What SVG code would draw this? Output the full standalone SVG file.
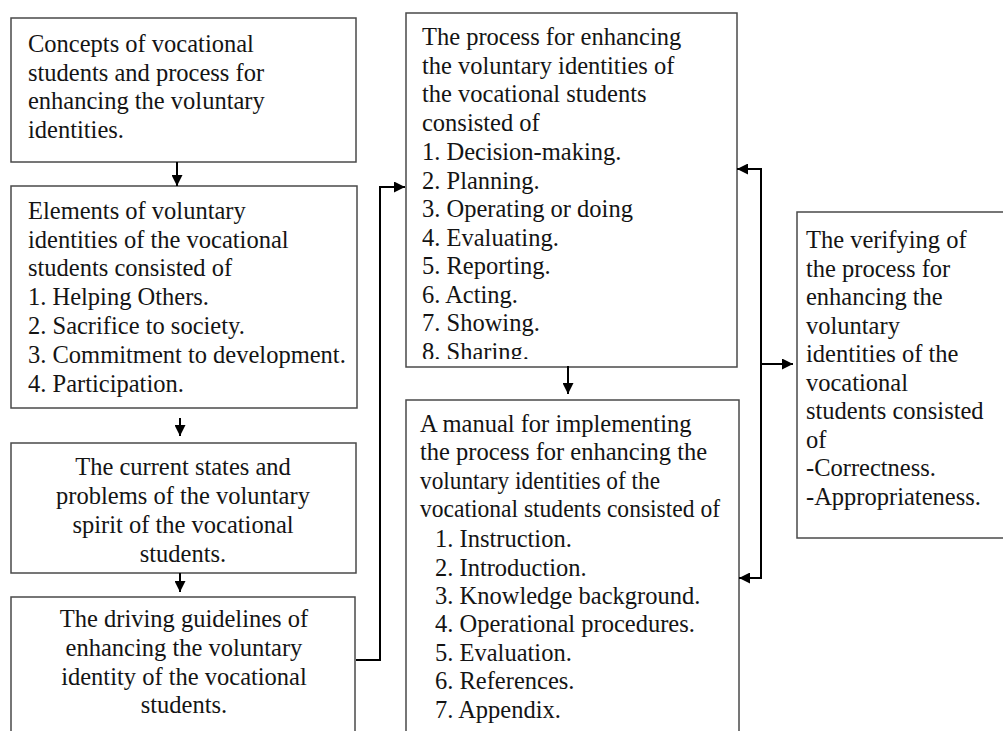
<svg xmlns="http://www.w3.org/2000/svg" width="1003" height="731" viewBox="0 0 1003 731">
  <style>
    .box { fill: #ffffff; stroke: #4a4a4a; stroke-width: 1.5; }
    .t { font-family: "Liberation Serif", "Times New Roman", serif; font-size: 24.5px; fill: #141414; }
    .c { text-anchor: middle; }
    .conn { fill: none; stroke: #000000; stroke-width: 2; }
  </style>
  <defs>
    <marker id="ah" markerUnits="userSpaceOnUse" markerWidth="11" markerHeight="11" refX="11" refY="5.5" orient="auto">
      <path d="M0,0 L11,5.5 L0,11 Z" fill="#000000"/>
    </marker>
    <clipPath id="clip5">
      <rect x="406" y="13" width="331" height="346"/>
    </clipPath>
  </defs>
  <rect width="1003" height="731" fill="#ffffff"/>

  <g id="node-concepts">
    <rect class="box" x="11" y="18" width="345" height="144"/>
    <text class="t" x="28" y="52">Concepts of vocational</text>
    <text class="t" x="28" y="80.5">students and process for</text>
    <text class="t" x="28" y="109">enhancing the voluntary</text>
    <text class="t" x="28" y="137.5">identities.</text>
  </g>

  <g id="node-elements">
    <rect class="box" x="11" y="186" width="346" height="222"/>
    <text class="t" x="28" y="219">Elements of voluntary</text>
    <text class="t" x="28" y="247.5">identities of the vocational</text>
    <text class="t" x="28" y="276">students consisted of</text>
    <text class="t" x="28" y="305">1. Helping Others.</text>
    <text class="t" x="28" y="334">2. Sacrifice to society.</text>
    <text class="t" x="28" y="363">3. Commitment to development.</text>
    <text class="t" x="28" y="392">4. Participation.</text>
  </g>

  <g id="node-current">
    <rect class="box" x="11" y="443" width="345" height="130"/>
    <text class="t c" x="183" y="475">The current states and</text>
    <text class="t c" x="183" y="504">problems of the voluntary</text>
    <text class="t c" x="183" y="533">spirit of the vocational</text>
    <text class="t c" x="183" y="562">students.</text>
  </g>

  <g id="node-guidelines">
    <rect class="box" x="11" y="597" width="344" height="160"/>
    <text class="t c" x="184" y="627">The driving guidelines of</text>
    <text class="t c" x="184" y="656">enhancing the voluntary</text>
    <text class="t c" x="184" y="685">identity of the vocational</text>
    <text class="t c" x="184" y="713">students.</text>
  </g>

  <g id="node-process">
    <rect class="box" x="406" y="13" width="331" height="354"/>
    <g clip-path="url(#clip5)">
      <text class="t" x="422" y="45">The process for enhancing</text>
      <text class="t" x="422" y="73.5">the voluntary identities of</text>
      <text class="t" x="422" y="102">the vocational students</text>
      <text class="t" x="422" y="130.5">consisted of</text>
      <text class="t" x="422" y="160">1. Decision-making.</text>
      <text class="t" x="422" y="188.5">2. Planning.</text>
      <text class="t" x="422" y="217">3. Operating or doing</text>
      <text class="t" x="422" y="245.5">4. Evaluating.</text>
      <text class="t" x="422" y="274">5. Reporting.</text>
      <text class="t" x="422" y="302.5">6. Acting.</text>
      <text class="t" x="422" y="331">7. Showing.</text>
      <text class="t" x="422" y="359.5">8. Sharing.</text>
    </g>
  </g>

  <g id="node-manual">
    <rect class="box" x="406" y="400" width="333" height="360"/>
    <text class="t" x="420" y="431.5">A manual for implementing</text>
    <text class="t" x="420" y="460">the process for enhancing the</text>
    <text class="t" x="420" y="488.5" textLength="240" lengthAdjust="spacingAndGlyphs">voluntary identities of the</text>
    <text class="t" x="420" y="517" textLength="300" lengthAdjust="spacingAndGlyphs">vocational students consisted of</text>
    <text class="t" x="435" y="547">1. Instruction.</text>
    <text class="t" x="435" y="575.5">2. Introduction.</text>
    <text class="t" x="435" y="604">3. Knowledge background.</text>
    <text class="t" x="435" y="632">4. Operational procedures.</text>
    <text class="t" x="435" y="660.5">5. Evaluation.</text>
    <text class="t" x="435" y="689">6. References.</text>
    <text class="t" x="435" y="717.5">7. Appendix.</text>
  </g>

  <g id="node-verifying">
    <rect class="box" x="797" y="212" width="230" height="326"/>
    <text class="t" x="806" y="248">The verifying of</text>
    <text class="t" x="806" y="276.5">the process for</text>
    <text class="t" x="806" y="305">enhancing the</text>
    <text class="t" x="806" y="333.5">voluntary</text>
    <text class="t" x="806" y="362">identities of the</text>
    <text class="t" x="806" y="390.5">vocational</text>
    <text class="t" x="806" y="419">students consisted</text>
    <text class="t" x="806" y="447.5">of</text>
    <text class="t" x="806" y="476">-Correctness.</text>
    <text class="t" x="806" y="504.5">-Appropriateness.</text>
  </g>

  <g id="connectors">
    <line class="conn" x1="177" y1="162" x2="177" y2="186" marker-end="url(#ah)"/>
    <line class="conn" x1="180" y1="418" x2="180" y2="436" marker-end="url(#ah)"/>
    <line class="conn" x1="180" y1="573" x2="180" y2="592" marker-end="url(#ah)"/>
    <polyline class="conn" points="356,660 380,660 380,187 405,187" marker-end="url(#ah)"/>
    <line class="conn" x1="568" y1="366" x2="568" y2="394" marker-end="url(#ah)"/>
    <line class="conn" x1="761" y1="168" x2="761" y2="579"/>
    <line class="conn" x1="761" y1="169" x2="737" y2="169" marker-end="url(#ah)"/>
    <line class="conn" x1="761" y1="578" x2="739" y2="578" marker-end="url(#ah)"/>
    <line class="conn" x1="761" y1="364" x2="793" y2="364" marker-end="url(#ah)"/>
  </g>
</svg>
